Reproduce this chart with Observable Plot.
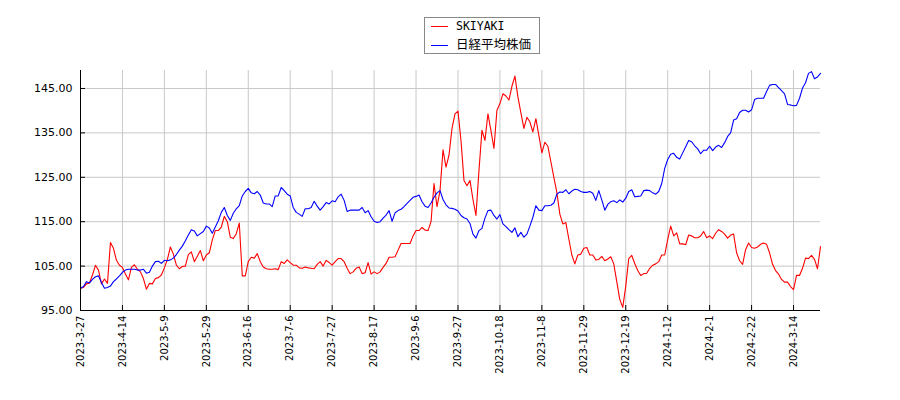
<!DOCTYPE html>
<html>
<head>
<meta charset="utf-8">
<script src="https://cdn.jsdelivr.net/npm/d3@7"></script>
<script src="https://cdn.jsdelivr.net/npm/@observablehq/plot@0.6"></script>
<style>
  body { margin: 0; background: #fff; }
  #wrap { position: relative; width: 900px; height: 400px; }
  #legend { position: absolute; left: 424px; top: 17px; width: 116px; height: 37px;
            border: 1px solid #888; background: #fff; box-sizing: border-box; }
  .sw { position: absolute; left: 6px; width: 17px; height: 0; border-top: 1.3px solid; }
  .lb { position: absolute; left: 31px; font-size: 12px; line-height: 14px; color: #000; white-space: nowrap; }
</style>
</head>
<body>
<div id="wrap">
  <div id="chart"></div>
  <div id="legend">
    <div class="sw" style="top:8px;border-color:#ff0000"></div>
    <div class="lb" id="lab0" style="top:1px;font-family:'DejaVu Sans Mono',monospace;font-size:11.5px"></div>
    <div class="sw" style="top:27px;border-color:#0000ff"></div>
    <div class="lb" id="lab1" style="top:19px;font-family:'Noto Sans CJK JP',sans-serif;font-size:12.5px"></div>
  </div>
</div>
<script>
const seriesNames = ["SKIYAKI", "日経平均株価"];
const seriesColors = ["#ff0000", "#0000ff"];

const tickLabels = ["2023-3-27","2023-4-14","2023-5-9","2023-5-29","2023-6-16","2023-7-6","2023-7-27","2023-8-17","2023-9-6","2023-9-27","2023-10-18","2023-11-8","2023-11-29","2023-12-19","2024-1-12","2024-2-1","2024-2-22","2024-3-14"];
const tickDays = [0,14,28,42,56,70,84,98,112,126,140,154,168,182,196,210,224,238];
const yTicks = [95,105,115,125,135,145];

const skiyaki = [100.0,100.2,101.0,101.2,103.0,105.2,104.1,101.0,102.1,101.1,
110.3,109.0,106.3,105.2,104.7,103.2,101.9,104.7,105.3,104.3,
103.7,102.2,99.8,101.1,101.0,102.2,102.4,103.0,104.6,106.5,
109.3,107.7,105.2,104.4,104.9,105.0,107.6,108.2,106.0,107.2,
108.5,106.2,107.5,108.0,110.9,113.0,113.0,113.8,116.2,115.0,
111.5,111.2,112.3,114.7,102.8,102.8,106.0,107.0,106.8,107.8,
106.0,104.8,104.4,104.3,104.3,104.4,104.2,106.0,105.6,106.4,
105.8,105.2,105.2,104.6,104.5,104.8,104.6,104.5,104.4,105.4,
106.0,105.0,106.3,105.8,105.2,106.0,106.7,106.7,106.0,104.5,
103.3,103.7,104.5,104.8,103.3,103.5,105.8,103.2,103.7,103.3,
103.7,104.7,105.6,107.0,107.0,107.1,108.6,110.1,110.1,110.1,
110.1,111.8,113.0,113.0,113.7,113.1,113.0,115.0,123.6,118.4,
122.0,131.2,127.3,130.0,136.0,139.3,139.9,133.3,124.3,123.1,
124.3,120.0,116.4,126.5,135.6,133.3,139.3,135.5,131.5,140.1,
141.6,143.8,143.3,142.4,145.5,147.8,143.1,139.5,136.0,138.5,
137.5,135.2,138.2,134.4,130.5,132.9,132.0,128.5,125.0,121.6,
116.7,114.5,114.8,111.1,107.5,105.5,107.5,107.7,109.0,109.2,
107.5,107.5,106.4,106.5,107.2,106.2,106.6,107.1,105.5,101.5,
97.5,95.7,100.5,106.7,107.4,105.6,104.0,102.9,103.3,103.4,
104.5,105.2,105.5,106.0,107.5,107.5,111.0,114.0,111.8,112.5,
110.0,110.0,109.8,112.0,111.8,111.4,111.4,111.8,112.8,111.4,
111.8,111.2,112.4,113.2,112.8,112.2,111.3,112.0,112.2,108.0,
106.2,105.4,108.7,110.2,109.2,109.0,109.3,109.9,110.2,109.9,
108.0,105.4,104.0,103.2,102.0,101.4,101.4,100.4,99.7,102.9,
102.9,104.5,106.8,106.7,107.4,106.5,104.4,109.4];

const nikkei = [100.0,100.4,101.5,101.2,102.0,102.6,102.8,101.3,100.0,100.2,
100.5,101.5,102.1,102.8,103.6,104.1,104.3,104.3,104.3,104.1,
104.1,104.3,103.4,103.6,105.0,106.0,106.1,105.6,106.3,106.2,
106.4,106.8,107.6,108.6,109.5,110.7,112.0,113.2,112.9,111.8,
112.3,112.8,114.0,113.6,112.4,113.8,115.2,117.1,118.2,116.4,
115.3,116.9,117.9,118.6,120.8,121.8,122.5,121.5,121.3,121.8,
121.0,119.2,119.0,119.0,118.4,120.8,120.8,122.7,122.0,121.2,
120.8,118.2,117.1,116.7,116.2,117.9,117.9,118.2,119.6,118.5,
117.6,118.4,119.3,119.0,119.7,119.5,120.6,121.2,119.8,117.3,
117.6,117.6,117.6,117.6,118.2,117.0,117.5,116.1,115.1,114.8,
115.0,115.8,116.5,117.5,115.1,117.0,117.5,117.8,118.4,119.1,
119.8,120.5,120.7,121.0,119.5,118.5,118.2,119.2,120.5,121.5,
122.0,120.0,118.8,118.1,118.0,117.8,117.4,116.4,115.9,115.6,
114.6,112.2,111.3,113.0,113.5,115.8,117.5,117.6,116.4,115.6,
116.6,114.5,113.9,113.2,112.6,113.6,111.6,112.6,111.5,112.2,
114.0,116.0,118.6,117.6,117.5,118.6,118.6,118.7,119.2,121.2,
121.7,121.6,122.2,121.3,121.9,122.3,122.2,121.8,121.6,121.6,
121.8,121.4,119.8,122.0,119.9,117.6,118.9,119.5,119.7,119.3,
119.9,119.4,120.3,121.8,122.2,120.6,120.7,120.8,122.0,122.1,
122.0,121.5,121.2,121.8,123.6,127.0,129.0,130.2,130.4,129.5,
129.1,130.5,131.9,133.3,133.0,132.1,131.4,130.3,131.1,131.1,
132.0,131.0,131.8,132.2,131.7,132.8,134.2,135.0,137.9,138.2,
139.6,140.1,140.1,139.7,140.2,142.5,142.8,142.8,142.8,144.3,
145.7,145.9,145.9,145.2,144.5,143.8,141.4,141.3,141.1,141.2,
142.8,145.1,146.3,148.4,148.8,147.2,147.6,148.4];

document.getElementById("lab0").textContent = seriesNames[0];
document.getElementById("lab1").textContent = seriesNames[1];

const rows = [];
skiyaki.forEach((v, i) => rows.push({day: i, value: v, series: seriesNames[0]}));
nikkei.forEach((v, i) => rows.push({day: i, value: v, series: seriesNames[1]}));

const lastDay = skiyaki.length - 1;

const chart = Plot.plot({
  width: 900,
  height: 400,
  marginLeft: 80,
  marginRight: 80,
  marginTop: 70,
  marginBottom: 90,
  style: {fontFamily: "DejaVu Sans", color: "#000", background: "#fff"},
  x: {domain: [0, lastDay]},
  y: {domain: [95, 149.05]},
  color: {domain: seriesNames, range: seriesColors},
  marks: [
    Plot.gridX(tickDays, {stroke: "#c8c8c8", strokeOpacity: 1, strokeWidth: 1}),
    Plot.gridY(yTicks, {stroke: "#c8c8c8", strokeOpacity: 1, strokeWidth: 1}),
    Plot.line(rows.filter(d => d.series === seriesNames[0]), {x: "day", y: "value", stroke: "series", strokeWidth: 1.1}),
    Plot.line(rows.filter(d => d.series === seriesNames[1]), {x: "day", y: "value", stroke: "series", strokeWidth: 1.1}),
    Plot.ruleX(tickDays, {stroke: "#000", insetTop: 235}),
    Plot.ruleY(yTicks, {stroke: "#000", insetRight: 735}),
    Plot.ruleX([0], {stroke: "#000"}),
    Plot.ruleY([95], {stroke: "#000"}),
    Plot.axisX(tickDays, {tickSize: 0, tickPadding: 5, tickRotate: -90, fontSize: 10, label: null,
      tickFormat: d => tickLabels[tickDays.indexOf(d)]}),
    Plot.axisY(yTicks, {tickSize: 0, tickPadding: 8, fontSize: 11, label: null,
      tickFormat: d => d.toFixed(2)})
  ]
});
document.getElementById("chart").appendChild(chart);
</script>
</body>
</html>
